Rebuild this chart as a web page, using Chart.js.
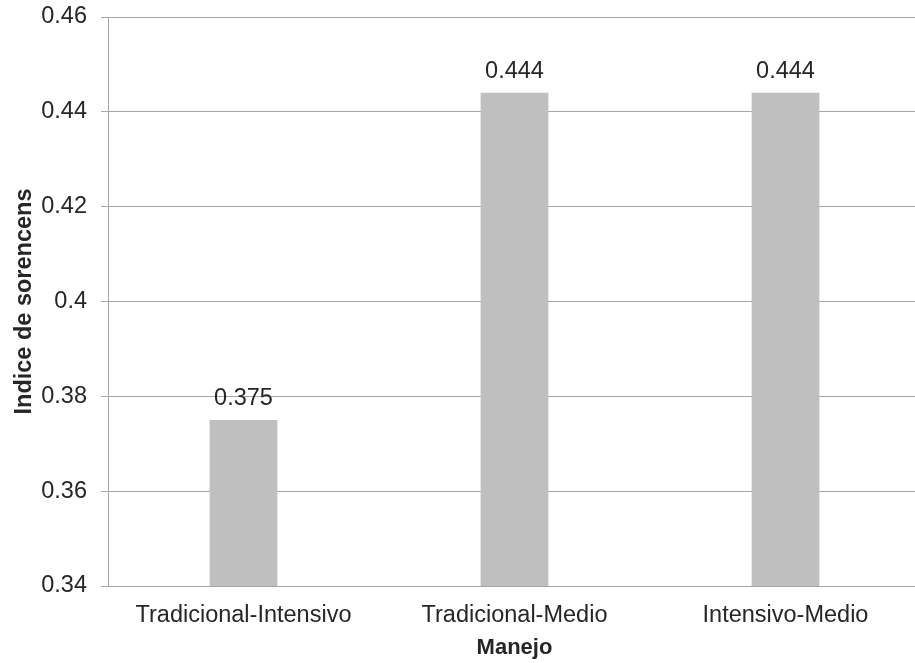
<!DOCTYPE html>
<html>
<head>
<meta charset="utf-8">
<script src="https://cdn.jsdelivr.net/npm/chart.js@4"></script>
<style>
    html, body { margin: 0; padding: 0; background: #ffffff; }
    #wrap { width: 915px; height: 663px; overflow: hidden; }
</style>
</head>
<body>
<!-- plot area runs a little past the right edge in the original, so the canvas is wider and clipped -->
<div id="wrap"><canvas id="sorensenChart" width="921" height="663"></canvas></div>
<script>
// Sorensen index per pair of management types
const categories = ['Tradicional-Intensivo', 'Tradicional-Medio', 'Intensivo-Medio'];
const sorensenValues = [0.375, 0.444, 0.444];
const yTicks = [0.34, 0.36, 0.38, 0.4, 0.42, 0.44, 0.46];

const gridColor = '#a6a6a6';
const textColor = '#262626';
const fontFamily = '"Liberation Sans", Arial, sans-serif';

// Draw value labels above each bar
const valueLabels = {
    id: 'valueLabels',
    afterDatasetsDraw(chart) {
        const ctx = chart.ctx;
        const meta = chart.getDatasetMeta(0);
        ctx.save();
        ctx.font = '23.5px ' + fontFamily;
        ctx.fillStyle = textColor;
        ctx.textAlign = 'center';
        ctx.textBaseline = 'alphabetic';
        meta.data.forEach((bar, i) => {
            ctx.fillText(String(sorensenValues[i]), bar.x, bar.y - 15);
        });
        ctx.restore();
    }
};

function initSorensenChart() {
    const ctx = document.getElementById('sorensenChart').getContext('2d');
    new Chart(ctx, {
        type: 'bar',
        data: {
            labels: categories,
            datasets: [{
                data: sorensenValues,
                backgroundColor: '#bfbfbf',
                borderWidth: 0,
                categoryPercentage: 0.5,
                barPercentage: 0.5
            }]
        },
        options: {
            responsive: false,
            animation: false,
            devicePixelRatio: 1,
            layout: {
                padding: { top: 17, right: 0, left: 0, bottom: 0 }
            },
            plugins: {
                legend: { display: false },
                tooltip: { enabled: false }
            },
            scales: {
                y: {
                    min: 0.34,
                    max: 0.46,
                    afterBuildTicks(scale) {
                        scale.ticks = yTicks.map(v => ({ value: v }));
                    },
                    afterFit(scale) {
                        scale.width = 108;
                        scale.paddingTop = 0;
                        scale.paddingBottom = 0;
                    },
                    grid: {
                        color: gridColor,
                        lineWidth: 1,
                        drawTicks: true,
                        tickLength: 7
                    },
                    border: { display: true, color: gridColor, width: 1 },
                    ticks: {
                        color: textColor,
                        padding: 14,
                        font: { family: fontFamily, size: 23.5 },
                        callback: (v) => String(Math.round(v * 100) / 100)
                    },
                    title: {
                        display: true,
                        text: 'Indice de sorencens',
                        color: textColor,
                        padding: { top: 10, bottom: 0 },
                        font: { family: fontFamily, size: 23.5, weight: 'bold' }
                    }
                },
                x: {
                    afterFit(scale) {
                        scale.height = 77;
                        scale.paddingLeft = 0;
                        scale.paddingRight = 0;
                    },
                    grid: { display: false },
                    border: { display: true, color: gridColor, width: 1 },
                    ticks: {
                        color: textColor,
                        padding: 7,
                        maxRotation: 0,
                        font: { family: fontFamily, size: 23.5 }
                    },
                    title: {
                        display: true,
                        text: 'Manejo',
                        color: textColor,
                        padding: { top: 0, bottom: 2 },
                        font: { family: fontFamily, size: 22, weight: 'bold' }
                    }
                }
            }
        },
        plugins: [valueLabels]
    });
}

initSorensenChart();
</script>
</body>
</html>
